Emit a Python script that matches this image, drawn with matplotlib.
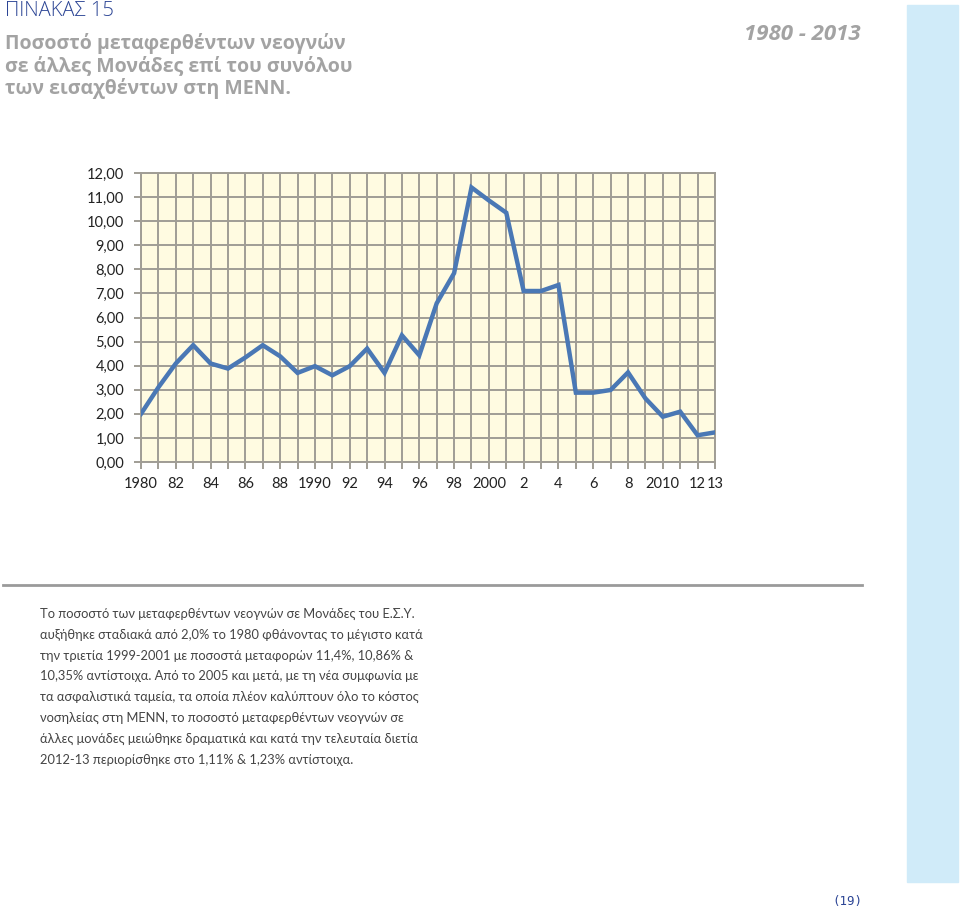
import matplotlib.pyplot as plt

years = list(range(1980, 2014))
values = [2.00, 3.10, 4.09, 4.85, 4.09, 3.88, 4.34, 4.85, 4.39, 3.70,
          3.98, 3.60, 3.98, 4.71, 3.70, 5.26, 4.43, 6.59, 7.84, 11.40,
          10.86, 10.35, 7.10, 7.10, 7.35, 2.88, 2.88, 2.99, 3.72, 2.64,
          1.88, 2.09, 1.11, 1.23]
xlabels = ["1980", "82", "84", "86", "88", "1990", "92", "94", "96", "98",
           "2000", "2", "4", "6", "8", "2010", "12", "13"]
xlabel_years = list(range(1980, 2013, 2)) + [2013]
yticks = list(range(0, 13))

paragraph = [
    "Το ποσοστό των μεταφερθέντων νεογνών σε Μονάδες του Ε.Σ.Υ.",
    "αυξήθηκε σταδιακά από 2,0% το 1980 φθάνοντας το μέγιστο κατά",
    "την τριετία 1999-2001 με ποσοστά μεταφορών 11,4%, 10,86% &",
    "10,35% αντίστοιχα. Από το 2005 και μετά, με τη νέα συμφωνία με",
    "τα ασφαλιστικά ταμεία, τα οποία πλέον καλύπτουν όλο το κόστος",
    "νοσηλείας στη ΜΕΝΝ, το ποσοστό μεταφερθέντων νεογνών σε",
    "άλλες μονάδες μειώθηκε δραματικά και κατά την τελευταία διετία",
    "2012-13 περιορίσθηκε στο 1,11% & 1,23% αντίστοιχα.",
]

W, H = 960, 911
fig = plt.figure(figsize=(W / 100, H / 100), dpi=100)

def fx(px):
    return px / W

def fy(py):
    return 1 - py / H

# light blue strip on the right
fig.patches.append(plt.Rectangle((fx(907), fy(882)), fx(51), (882 - 5) / H,
                                 transform=fig.transFigure, color="#d0ebf9", zorder=0))
# separator rule
fig.add_artist(plt.Line2D([fx(3), fx(862)], [fy(585), fy(585)],
                          transform=fig.transFigure, color="#9a9a9a", lw=2))

fig.text(fx(5), fy(11), "ΠΙΝΑΚΑΣ 15", family="Open Sans", weight="light",
         fontsize=14.5, color="#2c4595", va="center")
title = "Ποσοστό μεταφερθέντων νεογνών\nσε άλλες Μονάδες επί του συνόλου\nτων εισαχθέντων στη ΜΕΝΝ."
fig.text(fx(5), fy(33), title, family="Open Sans", weight="bold", fontsize=14,
         color="#a3a3a3", va="top", linespacing=1.12)
fig.text(fx(861), fy(34), "1980 - 2013", family="Open Sans", weight="bold",
         style="italic", fontsize=16, color="#a3a3a3", ha="right", va="center")

for i, line in enumerate(paragraph):
    fig.text(fx(40), fy(614 + i * 20.8), line, family="Lato", fontsize=9.3,
             color="#444444", va="center")

fig.text(fx(847), fy(901), "(19)", family="DejaVu Sans Mono", fontsize=9,
         color="#2c4595", ha="center", va="center")

ax = fig.add_axes([fx(141), fy(462), fx(715 - 141), (462 - 173) / H])
ax.set_facecolor("#fffbe1")
ax.plot(years, values, color="#4a78b5", lw=3.2, solid_joinstyle="miter", zorder=3)
ax.set_xlim(1980, 2013)
ax.set_ylim(0, 12)
ax.set_xticks(years)
ax.set_xticklabels([xlabels[xlabel_years.index(y)] if y in xlabel_years else "" for y in years])
ax.set_yticks(yticks)
ax.set_yticklabels([f"{v},00" for v in yticks])
ax.grid(True, color="#a09d95", lw=1.4)
ax.set_axisbelow(True)
for s in ax.spines.values():
    s.set_color("#a09d95")
    s.set_linewidth(1.4)
ax.tick_params(colors="#a09d95", length=5, width=1.4, labelcolor="#222222", labelsize=10.5)
ax.tick_params(axis="x", pad=6)
ax.tick_params(axis="y", pad=7)
for lbl in ax.get_xticklabels() + ax.get_yticklabels():
    lbl.set_family("Lato")

plt.savefig("out.png", dpi=100)
